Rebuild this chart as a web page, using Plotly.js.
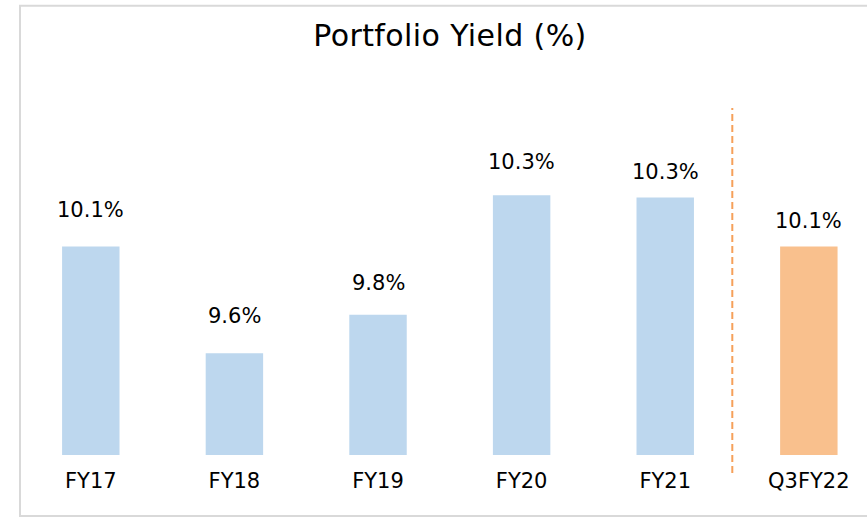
<!DOCTYPE html>
<html>
<head>
<meta charset="utf-8">
<script src="https://cdn.plot.ly/plotly-3.0.1.min.js"></script>
<style>
  html, body { margin: 0; padding: 0; background: #fff; }
  #chart { width: 867px; height: 517px; }
  .gtitle { letter-spacing: 0.4px; }
</style>
</head>
<body>
<div id="chart"></div>
<script>
// ---- data ----
const categories = ["FY17", "FY18", "FY19", "FY20", "FY21", "Q3FY22"];
const yieldPct = [10.1, 9.6, 9.78, 10.34, 10.33, 10.1];
const barColors = ["#bdd7ee", "#bdd7ee", "#bdd7ee", "#bdd7ee", "#bdd7ee", "#f9c08d"];
const chartTitle = "Portfolio Yield (%)";

// ---- styling (label gap above each bar, px) ----
const labelGap = [23, 23.5, 18, 19, 11, 12];

const trace = {
  type: "bar",
  x: categories,
  y: yieldPct,
  width: 0.4,
  marker: { color: barColors, line: { width: 0 } },
  hoverinfo: "x+y"
};

const annotations = categories.map((c, i) => ({
  x: c,
  y: yieldPct[i],
  xref: "x",
  yref: "y",
  text: yieldPct[i].toFixed(1) + "%",
  showarrow: false,
  yanchor: "bottom",
  yshift: labelGap[i],
  font: { family: "DejaVu Sans", size: 21, color: "#000" }
}));

const layout = {
  width: 867,
  height: 517,
  margin: { l: 19, r: 0, t: 62, b: 62, pad: 0 },
  paper_bgcolor: "#ffffff",
  plot_bgcolor: "#ffffff",
  showlegend: false,
  title: {
    text: chartTitle,
    x: 0.519,
    xanchor: "center",
    y: 0.932,
    yref: "container",
    yanchor: "middle",
    font: { family: "DejaVu Sans", size: 30, color: "#000" }
  },
  xaxis: {
    type: "category",
    range: [-0.5, 5.405],
    showgrid: false,
    zeroline: false,
    showline: false,
    ticks: "outside",
    ticklen: 7,
    tickcolor: "rgba(0,0,0,0)",
    tickfont: { family: "DejaVu Sans", size: 21, color: "#000" }
  },
  yaxis: {
    range: [9.1227, 10.9652],
    showgrid: false,
    zeroline: false,
    showline: false,
    showticklabels: false,
    ticks: ""
  },
  annotations: annotations,
  shapes: [
    {
      type: "line",
      xref: "x",
      yref: "paper",
      x0: 4.467, x1: 4.467,
      y0: -0.046, y1: 0.883,
      line: { color: "#f6a05a", width: 2, dash: "7px,4px" }
    },
    {
      type: "rect",
      xref: "paper",
      yref: "paper",
      x0: 0.0012, x1: 1.05,
      y0: -0.155, y1: 1.143,
      line: { color: "#d9d9d9", width: 2 },
      fillcolor: "rgba(0,0,0,0)"
    }
  ]
};

Plotly.newPlot("chart", [trace], layout, { displayModeBar: false, staticPlot: true });
</script>
</body>
</html>
